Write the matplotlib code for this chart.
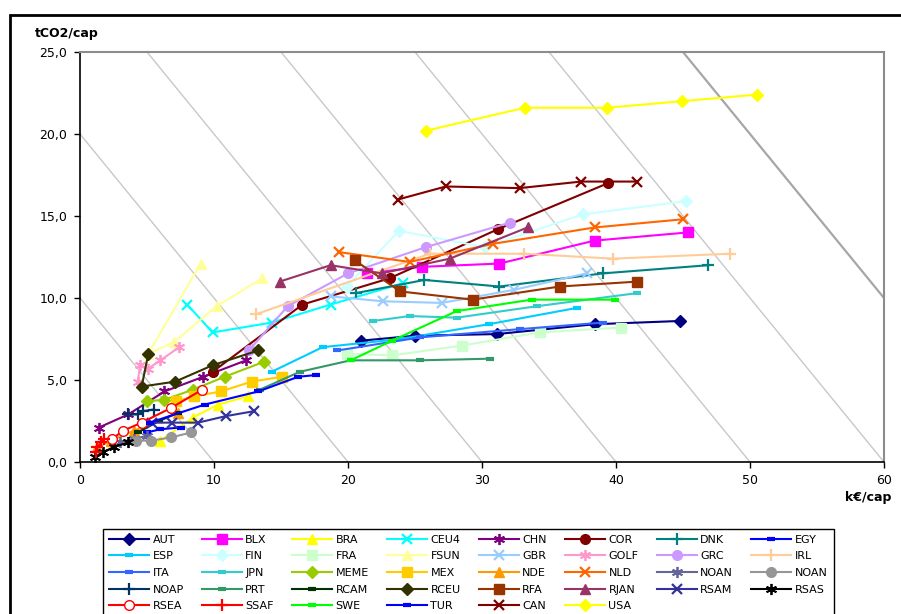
'''
CO2 per capita vs GDP per capita trajectories by region
'''

#imports
import matplotlib
matplotlib.use('Agg')
from matplotlib import pyplot as plt
from matplotlib.patches import Rectangle

#data (x = k€/cap, y = tCO2/cap)
AUT_x = [21.0, 25.0, 31.1, 38.4, 44.8]
AUT_y = [7.4, 7.7, 7.8, 8.4, 8.6]
BLX_x = [21.4, 25.5, 31.3, 38.4, 45.4]
BLX_y = [11.5, 11.9, 12.1, 13.5, 14.0]
BRA_x = [6.0, 8.4, 10.3, 12.5]
BRA_y = [1.3, 2.7, 3.5, 4.0]
CEU4_x = [8.0, 9.9, 14.3, 18.7, 24.1]
CEU4_y = [9.6, 7.9, 8.5, 9.6, 10.9]
CHN_x = [1.4, 3.6, 6.3, 9.2, 12.4]
CHN_y = [2.1, 2.9, 4.3, 5.2, 6.2]
COR_x = [9.9, 16.6, 23.1, 31.2, 39.4]
COR_y = [5.5, 9.6, 11.2, 14.2, 17.0]
DNK_x = [20.6, 25.7, 31.3, 39.0, 46.9]
DNK_y = [10.3, 11.1, 10.7, 11.5, 12.0]
EGY_x = [5.0, 6.0, 7.5]
EGY_y = [1.8, 2.0, 2.1]
ESP_x = [14.3, 18.1, 23.9, 30.5, 37.1]
ESP_y = [5.5, 7.0, 7.5, 8.4, 9.4]
FIN_x = [19.9, 23.8, 30.2, 37.5, 45.2]
FIN_y = [10.7, 14.1, 13.1, 15.1, 15.9]
FRA_x = [19.9, 23.3, 28.5, 34.3, 40.4]
FRA_y = [6.6, 6.5, 7.1, 7.9, 8.2]
FSUN_x = [9.0, 5.1, 7.0, 10.2, 13.6]
FSUN_y = [12.1, 6.6, 7.3, 9.5, 11.2]
GBR_x = [18.7, 22.6, 27.0, 32.4, 37.8]
GBR_y = [10.1, 9.8, 9.7, 10.5, 11.5]
GOLF_x = [4.3, 4.5, 5.1, 6.0, 7.4]
GOLF_y = [4.9, 5.9, 5.7, 6.2, 7.0]
GRC_x = [12.6, 15.5, 20.0, 25.8, 32.1]
GRC_y = [6.8, 9.5, 11.5, 13.1, 14.6]
IRL_x = [13.1, 26.1, 33.1, 39.8, 48.5]
IRL_y = [9.0, 12.7, 12.7, 12.4, 12.7]
ITA_x = [19.2, 25.4, 32.8, 39.0]
ITA_y = [6.8, 7.6, 8.1, 8.5]
JPN_x = [21.9, 24.6, 28.1, 34.1, 41.6]
JPN_y = [8.6, 8.9, 8.8, 9.5, 10.3]
MEME_x = [5.0, 6.3, 8.4, 10.8, 13.7]
MEME_y = [3.7, 3.8, 4.4, 5.2, 6.1]
MEX_x = [7.2, 8.5, 10.5, 12.8, 15.1]
MEX_y = [3.7, 4.0, 4.3, 4.9, 5.2]
NDE_x = [1.3, 2.3, 4.0, 7.3]
NDE_y = [0.9, 1.3, 1.9, 3.0]
NLD_x = [19.3, 24.6, 30.8, 38.4, 45.0]
NLD_y = [12.8, 12.2, 13.3, 14.3, 14.8]
NOAN_x = [3.0, 4.0, 5.0]
NOAN_y = [1.2, 1.4, 1.6]
NOAN2_x = [4.2, 5.3, 6.8, 8.3]
NOAN2_y = [1.3, 1.3, 1.5, 1.8]
NOAP_x = [3.6, 4.3, 4.7, 5.5]
NOAP_y = [2.9, 2.9, 3.1, 3.2]
PRT_x = [13.4, 16.4, 20.2, 25.4, 30.6]
PRT_y = [4.4, 5.5, 6.2, 6.2, 6.3]
RCAM_x = [4.3, 5.9, 7.3]
RCAM_y = [1.8, 2.5, 3.0]
RCEU_x = [5.1, 4.6, 7.1, 9.9, 13.3]
RCEU_y = [6.6, 4.6, 4.9, 5.9, 6.8]
RFA_x = [20.5, 23.9, 29.3, 35.8, 41.6]
RFA_y = [12.3, 10.4, 9.9, 10.7, 11.0]
RJAN_x = [14.9, 18.7, 22.5, 27.6, 33.4]
RJAN_y = [11.0, 12.0, 11.5, 12.4, 14.3]
RSAM_x = [5.4, 6.9, 8.8, 10.9, 13.0]
RSAM_y = [2.4, 2.4, 2.4, 2.8, 3.1]
RSAS_x = [1.1, 1.7, 2.5, 3.6]
RSAS_y = [0.3, 0.6, 0.9, 1.2]
RSEA_x = [2.4, 3.2, 4.6, 6.8, 9.1]
RSEA_y = [1.4, 1.9, 2.4, 3.3, 4.4]
SSAF_x = [1.2, 1.3, 1.6, 1.8]
SSAF_y = [0.6, 0.9, 1.2, 1.4]
SWE_x = [20.2, 23.3, 28.1, 33.7, 39.9]
SWE_y = [6.2, 7.4, 9.2, 9.9, 9.9]
TUR_x = [5.2, 9.3, 13.3, 16.3, 17.6]
TUR_y = [2.4, 3.5, 4.3, 5.2, 5.3]
CAN_x = [23.7, 27.3, 32.8, 37.4, 41.6]
CAN_y = [16.0, 16.8, 16.7, 17.1, 17.1]
USA_x = [25.8, 33.2, 39.3, 44.9, 50.5]
USA_y = [20.2, 21.6, 21.6, 22.0, 22.4]

labels = ['AUT', 'BLX', 'BRA', 'CEU4', 'CHN', 'COR', 'DNK', 'EGY',
          'ESP', 'FIN', 'FRA', 'FSUN', 'GBR', 'GOLF', 'GRC', 'IRL',
          'ITA', 'JPN', 'MEME', 'MEX', 'NDE', 'NLD', 'NOAN', 'NOAN',
          'NOAP', 'PRT', 'RCAM', 'RCEU', 'RFA', 'RJAN', 'RSAM', 'RSAS',
          'RSEA', 'SSAF', 'SWE', 'TUR', 'CAN', 'USA']
xs = [AUT_x, BLX_x, BRA_x, CEU4_x, CHN_x, COR_x, DNK_x, EGY_x,
      ESP_x, FIN_x, FRA_x, FSUN_x, GBR_x, GOLF_x, GRC_x, IRL_x,
      ITA_x, JPN_x, MEME_x, MEX_x, NDE_x, NLD_x, NOAN_x, NOAN2_x,
      NOAP_x, PRT_x, RCAM_x, RCEU_x, RFA_x, RJAN_x, RSAM_x, RSAS_x,
      RSEA_x, SSAF_x, SWE_x, TUR_x, CAN_x, USA_x]
ys = [AUT_y, BLX_y, BRA_y, CEU4_y, CHN_y, COR_y, DNK_y, EGY_y,
      ESP_y, FIN_y, FRA_y, FSUN_y, GBR_y, GOLF_y, GRC_y, IRL_y,
      ITA_y, JPN_y, MEME_y, MEX_y, NDE_y, NLD_y, NOAN_y, NOAN2_y,
      NOAP_y, PRT_y, RCAM_y, RCEU_y, RFA_y, RJAN_y, RSAM_y, RSAS_y,
      RSEA_y, SSAF_y, SWE_y, TUR_y, CAN_y, USA_y]
iso_levels = [10, 20, 30, 40, 50, 60, 70]
xticks = [0, 10, 20, 30, 40, 50, 60]
yticks = [0, 5, 10, 15, 20, 25]

#styles: colour, marker
star = (6, 2, 0)
styles = [('#000080', 'D'), ('#FF00FF', 's'), ('#FFFF00', '^'), ('#00FFFF', 'x'),
          ('#800080', star), ('#800000', 'o'), ('#008080', '+'), ('#0000FF', '_'),
          ('#00CCFF', '_'), ('#CCFFFF', 'D'), ('#CCFFCC', 's'), ('#FFFF99', '^'),
          ('#99CCFF', 'x'), ('#FF99CC', star), ('#CC99FF', 'o'), ('#FFCC99', '+'),
          ('#3366FF', '_'), ('#33CCCC', '_'), ('#99CC00', 'D'), ('#FFCC00', 's'),
          ('#FF9900', '^'), ('#FF6600', 'x'), ('#666699', star), ('#969696', 'o'),
          ('#003366', '+'), ('#339966', '_'), ('#003300', '_'), ('#333300', 'D'),
          ('#993300', 's'), ('#993366', '^'), ('#333399', 'x'), ('#000000', star),
          ('#FF0000', 'o'), ('#FF0000', '+'), ('#00FF00', '_'), ('#0000FF', '_'),
          ('#800000', 'x'), ('#FFFF00', 'D')]
msizes = {'D': 6.5, 's': 7, '^': 7.5, 'x': 7, '+': 8, 'o': 7, '_': 6, star: 8}
mews = {'D': 1, 's': 1, '^': 1, 'x': 1.6, '+': 1.6, 'o': 1, '_': 3, star: 1.3}

fig = plt.figure(figsize=(9.01, 6.14), dpi=100)
ax = fig.add_axes([80/901, 1-462/614, 804/901, 410/614])

#iso lines
for k in iso_levels:
    ax.plot([0, k], [k, 0], color='#A6A6A6' if k == 70 else '#C8C8C8',
            lw=1.6 if k == 70 else 1.0, zorder=1)

handles = []
for i, name in enumerate(labels):
    c, m = styles[i]
    mfc = 'white' if name == 'RSEA' else c
    h, = ax.plot(xs[i], ys[i], color=c, lw=1.5, marker=m, ms=msizes[m],
                 mew=mews[m], mfc=mfc, mec=c, label=name, zorder=2+i*0.01)
    handles.append(h)

ax.set_xlim(0, 60)
ax.set_ylim(0, 25)
ax.set_xticks(xticks)
ax.set_yticks(yticks)
ax.set_yticklabels(['{:.1f}'.format(v).replace('.', ',') for v in yticks])
ax.tick_params(direction='out', length=4, width=1, labelsize=9, pad=5)
for s in ['left', 'bottom']:
    ax.spines[s].set_color('black')
    ax.spines[s].set_linewidth(1.2)
for s in ['top', 'right']:
    ax.spines[s].set_color('#8C8C8C')
    ax.spines[s].set_linewidth(1.5)

fig.text(35/901, 1-33/614, 'tCO2/cap', fontsize=9, fontweight='bold', va='center', ha='left')
fig.text(891/901, 1-498/614, 'k€/cap', fontsize=9, fontweight='bold', va='center', ha='right')

#legend in row order (matplotlib fills columns first)
ncol = 8
order = [r*ncol+c for c in range(ncol) for r in range(5) if r*ncol+c < len(handles)]
leg = fig.legend([handles[j] for j in order], [labels[j] for j in order],
                 loc='upper left', bbox_to_anchor=(103/901, 1-528.5/614), ncol=ncol,
                 fontsize=8, frameon=True, fancybox=False, edgecolor='black',
                 framealpha=1, handlelength=3.6, handletextpad=0.3,
                 columnspacing=1.65, labelspacing=0.6, borderpad=0.55,
                 borderaxespad=0)
leg.get_frame().set_linewidth(1.0)

#outer frame
fig.patches.append(Rectangle((9.5/901, -0.05), 1.0, 1-14.5/614+0.05,
                             transform=fig.transFigure, fill=False,
                             edgecolor='black', lw=2))

plt.savefig('out.png', dpi=100)
